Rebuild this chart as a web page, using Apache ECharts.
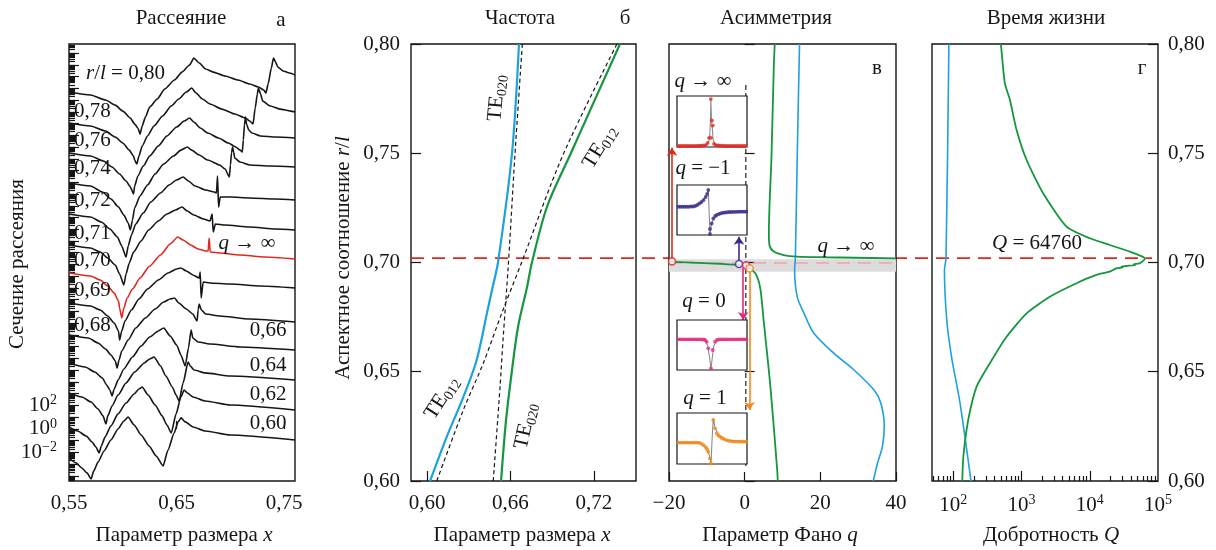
<!DOCTYPE html>
<html lang="ru">
<head>
<meta charset="utf-8">
<title>Рассеяние, частота, асимметрия и время жизни</title>
<script src="https://cdn.jsdelivr.net/npm/echarts@6.0.0/dist/echarts.min.js"></script>
<style>
  html, body { margin: 0; padding: 0; background: #fff; }
  #chart { width: 1216px; height: 550px; }
</style>
</head>
<body>
<div id="chart"></div>
<script>
// ---------- palette ----------
const FONT = '"Liberation Serif","Times New Roman",serif';
const INK = '#161616';
const BLUE = '#1da1df';
const GREEN = '#16963e';
const RED = '#e2281e';
const PURPLE = '#3b2a8c';
const PINK = '#e5287f';
const ORANGE = '#f18a1c';

// ---------- axis ticks ----------
const sizeTicksA = [0.55, 0.65, 0.75];
const sizeTicksB = [0.60, 0.66, 0.72];
const sigmaLabelDecades = [-2, 0, 2];
const qDecades = [2, 3, 4, 5];
const criticalRatio = 0.702;       // r/l of the q -> infinity state
const qPeak = 64760;               // maximal Q-factor
const grayBand = [0.6958, 0.7015]; // r/l window where q changes sign

// ---------- panel а: scattering cross-section, [x, log10(sigma) with offset] ----------
const scat080 = [[0.550,28.68],[0.570,28.43],[0.584,28.00],[0.593,27.57],[0.600,27.06],[0.607,26.47],[0.611,25.96],[0.614,25.62],[0.616,25.10],[0.618,25.79],[0.621,26.55],[0.625,27.40],[0.632,28.09],[0.639,28.94],[0.648,29.70],[0.655,30.38],[0.662,30.98],[0.666,31.57],[0.671,31.15],[0.677,30.64],[0.684,30.38],[0.695,30.04],[0.707,29.70],[0.718,29.36],[0.726,29.11],[0.731,28.85],[0.733,28.60],[0.735,29.36],[0.738,30.72],[0.740,31.57],[0.742,31.23],[0.744,30.81],[0.749,30.47],[0.755,30.30],[0.760,30.13]];
const scat078 = [[0.550,26.04],[0.570,25.79],[0.584,25.36],[0.593,24.85],[0.600,24.34],[0.606,23.74],[0.610,23.23],[0.611,22.89],[0.613,22.55],[0.615,23.23],[0.618,24.09],[0.623,24.94],[0.629,25.79],[0.637,26.64],[0.645,27.49],[0.652,28.09],[0.659,28.68],[0.664,29.02],[0.668,28.60],[0.674,28.09],[0.681,27.66],[0.692,27.23],[0.704,26.81],[0.714,26.47],[0.718,26.21],[0.721,25.96],[0.723,27.32],[0.725,28.51],[0.726,29.02],[0.728,28.51],[0.730,27.91],[0.737,27.49],[0.746,27.23],[0.756,27.06],[0.760,26.98]];
const scat076 = [[0.550,23.49],[0.570,23.23],[0.582,22.81],[0.590,22.30],[0.597,21.70],[0.603,21.11],[0.607,20.60],[0.610,20.00],[0.611,20.68],[0.614,21.53],[0.619,22.38],[0.625,23.23],[0.633,24.09],[0.641,24.94],[0.650,25.70],[0.657,26.21],[0.662,26.47],[0.666,26.13],[0.672,25.62],[0.679,25.19],[0.689,24.77],[0.698,24.34],[0.705,24.00],[0.709,23.74],[0.711,23.57],[0.712,24.60],[0.713,25.87],[0.714,26.55],[0.715,25.96],[0.717,25.45],[0.720,25.19],[0.728,24.94],[0.742,24.85],[0.760,24.77]];
const scat074 = [[0.550,20.94],[0.570,20.68],[0.581,20.17],[0.589,19.57],[0.596,18.89],[0.601,18.21],[0.605,17.53],[0.607,16.94],[0.609,17.79],[0.611,18.81],[0.616,19.83],[0.623,20.77],[0.630,21.70],[0.638,22.55],[0.647,23.23],[0.654,23.74],[0.660,24.00],[0.664,23.74],[0.671,23.32],[0.679,22.89],[0.690,22.47],[0.695,22.13],[0.699,21.45],[0.700,22.47],[0.701,23.49],[0.702,24.00],[0.703,23.57],[0.704,23.06],[0.709,22.72],[0.718,22.47],[0.737,22.38],[0.760,22.30]];
const scat072 = [[0.550,18.30],[0.570,18.04],[0.580,17.62],[0.588,17.02],[0.595,16.34],[0.599,15.57],[0.603,14.64],[0.605,15.57],[0.608,16.51],[0.612,17.45],[0.619,18.38],[0.626,19.32],[0.635,20.09],[0.643,20.77],[0.650,21.19],[0.656,21.45],[0.661,21.11],[0.667,20.68],[0.677,20.34],[0.685,20.17],[0.687,20.09],[0.688,21.53],[0.689,18.89],[0.6905,19.74],[0.700,19.74],[0.718,19.66],[0.742,19.57],[0.760,19.49]];
const scat071 = [[0.550,15.66],[0.570,15.40],[0.579,15.06],[0.586,14.55],[0.593,13.96],[0.597,13.19],[0.601,12.26],[0.603,13.19],[0.606,14.13],[0.610,15.06],[0.617,16.00],[0.624,16.94],[0.633,17.70],[0.641,18.30],[0.649,18.64],[0.655,18.89],[0.660,18.55],[0.666,18.21],[0.675,17.87],[0.681,17.70],[0.683,18.30],[0.684,16.77],[0.686,17.45],[0.695,17.36],[0.718,17.19],[0.742,17.02],[0.760,16.94]];
const scat070 = [[0.550,13.28],[0.570,13.02],[0.579,12.68],[0.586,12.17],[0.592,11.57],[0.596,10.89],[0.597,10.30],[0.599,9.45],[0.601,10.30],[0.604,11.15],[0.609,11.91],[0.616,12.85],[0.625,13.87],[0.635,14.81],[0.644,15.74],[0.651,16.34],[0.656,16.09],[0.663,15.66],[0.670,15.32],[0.677,15.15],[0.6793,15.15],[0.6802,16.26],[0.6812,15.06],[0.690,14.98],[0.709,14.81],[0.732,14.64],[0.760,14.47]];
const scat069 = [[0.550,10.72],[0.570,10.47],[0.579,10.13],[0.586,9.62],[0.592,9.02],[0.596,8.34],[0.597,7.57],[0.599,8.34],[0.602,9.19],[0.608,10.13],[0.615,11.06],[0.623,11.91],[0.633,12.68],[0.642,13.28],[0.650,13.62],[0.654,13.70],[0.659,13.45],[0.665,13.11],[0.671,12.85],[0.6719,13.36],[0.6728,11.15],[0.6747,12.51],[0.681,12.43],[0.700,12.34],[0.728,12.17],[0.760,12.00]];
const scat068 = [[0.550,8.00],[0.568,7.74],[0.577,7.32],[0.584,6.81],[0.589,6.30],[0.593,5.79],[0.5947,5.19],[0.5965,5.87],[0.599,6.64],[0.605,7.57],[0.612,8.60],[0.621,9.45],[0.630,10.21],[0.638,10.81],[0.644,11.06],[0.648,11.15],[0.652,10.72],[0.659,10.21],[0.665,9.79],[0.669,9.19],[0.670,10.13],[0.671,10.64],[0.673,10.13],[0.677,9.79],[0.690,9.62],[0.718,9.36],[0.760,9.11]];
const scat066 = [[0.550,5.62],[0.565,5.28],[0.574,4.85],[0.581,4.34],[0.585,3.74],[0.588,3.32],[0.590,2.81],[0.592,3.40],[0.5956,4.17],[0.601,5.11],[0.609,6.13],[0.617,7.06],[0.625,7.83],[0.633,8.34],[0.638,8.60],[0.644,7.91],[0.650,7.15],[0.654,6.30],[0.658,5.36],[0.661,6.89],[0.6635,8.43],[0.665,7.74],[0.670,7.40],[0.681,7.23],[0.709,6.98],[0.760,6.72]];
const scat064 = [[0.550,3.06],[0.562,2.72],[0.5705,2.30],[0.577,1.70],[0.5816,1.11],[0.5844,0.43],[0.586,1.11],[0.590,1.96],[0.5956,2.89],[0.603,3.91],[0.611,4.85],[0.620,5.62],[0.625,5.96],[0.629,6.13],[0.635,5.36],[0.640,4.51],[0.646,3.57],[0.6495,2.89],[0.6523,2.38],[0.656,3.91],[0.6607,5.70],[0.6626,5.36],[0.6663,5.02],[0.6765,4.77],[0.6998,4.51],[0.760,4.17]];
const scat062 = [[0.550,0.17],[0.558,-0.17],[0.566,-0.60],[0.5714,-1.11],[0.575,-1.53],[0.578,-2.04],[0.580,-1.45],[0.5835,-0.68],[0.589,0.26],[0.5956,1.28],[0.603,2.21],[0.6105,2.98],[0.615,3.40],[0.618,3.57],[0.6235,2.89],[0.630,2.04],[0.6365,1.11],[0.641,0.34],[0.645,-0.34],[0.6495,1.28],[0.654,2.72],[0.657,3.32],[0.660,3.06],[0.6653,2.72],[0.6765,2.38],[0.6998,2.04],[0.760,1.62]];
const scat060 = [[0.550,-2.47],[0.5565,-2.89],[0.562,-3.32],[0.5667,-3.74],[0.5705,-4.26],[0.573,-3.57],[0.577,-2.81],[0.5826,-1.87],[0.589,-0.94],[0.5956,0.00],[0.601,0.68],[0.6049,1.02],[0.6105,0.34],[0.617,-0.51],[0.6244,-1.45],[0.631,-2.30],[0.6374,-3.15],[0.642,-1.79],[0.6477,-0.34],[0.6514,0.60],[0.6542,0.94],[0.658,0.60],[0.6653,0.17],[0.6765,-0.17],[0.6998,-0.51],[0.760,-0.94]];
const scatterCurves = [scat080, scat078, scat076, scat074, scat072, scat071, scat070, scat069, scat068, scat066, scat064, scat062, scat060];
const scatterRatios = ['0,80','0,78','0,76','0,74','0,72','0,71','0,70','0,69','0,68','0,66','0,64','0,62','0,60'];

// ---------- panel б: resonance size parameter, [x, r/l] ----------
const freqBlue  = [[0.6661,0.80],[0.6611,0.75],[0.6510,0.70],[0.6467,0.6874],[0.6431,0.6769],[0.6357,0.6554],[0.6261,0.6384],[0.6141,0.6201],[0.6022,0.60]];
const freqGreen = [[0.7387,0.80],[0.7028,0.7492],[0.6862,0.7254],[0.6754,0.70],[0.6719,0.6888],[0.6654,0.6705],[0.6611,0.6508],[0.6568,0.6279],[0.6532,0.60]];
const freqBareTE020 = [[0.6685,0.80],[0.6632,0.7492],[0.6584,0.6985],[0.6548,0.666],[0.6525,0.6432],[0.6476,0.60]];
const freqBareTE012 = [[0.7365,0.80],[0.6977,0.7492],[0.668,0.70],[0.6546,0.6783],[0.6405,0.654],[0.6261,0.6325],[0.607,0.60]];

// ---------- panel в: Fano parameter, [q, r/l] ----------
const fanoGreenUpper = [[7.95,0.80],[7.7,0.7895],[7.1,0.7492],[6.4,0.7135],[6.55,0.708],[7.7,0.705],[10.3,0.7034],[13.9,0.7027],[20.9,0.7024],[40,0.7019]];
const fanoGreenLower = [[-20,0.7004],[-9.1,0.6996],[-2.0,0.6989],[0.2,0.6982],[1.95,0.6966],[3.3,0.6935],[4.2,0.6874],[5.0,0.6737],[6.8,0.6432],[8.6,0.605],[8.75,0.60]];
const fanoBlue = [[14.5,0.80],[13.9,0.7492],[13.4,0.702],[13.2,0.6966],[13.9,0.6843],[15.7,0.6767],[18.3,0.6676],[23.6,0.6584],[28.9,0.6508],[34.2,0.6416],[36.0,0.6356],[36.9,0.6249],[36.4,0.6157],[35.1,0.6081],[34.0,0.60]];
const fanoZeroGuide = [[0.3,0.7812],[0.3,0.6065]];
// picked states on the green branch: [q, r/l] of marker, arrow [q, from, to]
const fanoPicks = [
  { color: RED,    at: [-19.2, 0.7005], arrow: [-19.2, 0.7021, 0.7525] },
  { color: PURPLE, at: [-1.5, 0.6993],  arrow: [-1.5, 0.7009, 0.7118] },
  { color: PINK,   at: [0.4, 0.6987],   arrow: [-0.4, 0.6977, 0.6737] },
  { color: ORANGE, at: [1.3, 0.6973],   arrow: [1.3, 0.6957, 0.6325] }
];

// ---------- inset line shapes, normalised [x, y] ----------
const insetInfDots = [[0.02,0.02],[0.05,0.02],[0.08,0.02],[0.11,0.02],[0.14,0.02],[0.17,0.02],[0.20,0.02],[0.23,0.02],[0.26,0.02],[0.29,0.02],[0.32,0.025],[0.35,0.025],[0.38,0.03],[0.41,0.035],[0.438,0.08],[0.457,0.18],[0.486,0.18],[0.483,0.94],[0.498,0.52],[0.511,0.42],[0.529,0.06],[0.56,0.035],[0.59,0.03],[0.62,0.025],[0.65,0.025],[0.68,0.02],[0.71,0.02],[0.74,0.02],[0.77,0.02],[0.80,0.02],[0.83,0.02],[0.86,0.02],[0.89,0.02],[0.92,0.02],[0.95,0.02],[0.98,0.02]];
const insetInfFit = [[0,0.015],[0.40,0.03],[0.44,0.06],[0.465,0.16],[0.477,0.5],[0.484,0.94],[0.492,0.55],[0.505,0.35],[0.515,0.16],[0.54,0.05],[0.60,0.03],[1,0.015]];
const insetM1Dots = [[0.02,0.565],[0.05,0.565],[0.08,0.565],[0.11,0.565],[0.14,0.565],[0.17,0.565],[0.20,0.57],[0.23,0.57],[0.26,0.58],[0.29,0.60],[0.32,0.63],[0.35,0.66],[0.38,0.70],[0.41,0.76],[0.43,0.82],[0.447,0.90],[0.471,0.02],[0.471,0.12],[0.495,0.23],[0.519,0.33],[0.545,0.38],[0.567,0.40],[0.60,0.42],[0.63,0.435],[0.66,0.445],[0.69,0.45],[0.72,0.455],[0.75,0.46],[0.78,0.46],[0.81,0.462],[0.84,0.464],[0.87,0.465],[0.90,0.466],[0.93,0.466],[0.96,0.466],[0.99,0.466]];
const insetM1Fit = [[0,0.565],[0.25,0.575],[0.35,0.65],[0.42,0.78],[0.447,0.9],[0.458,0.5],[0.471,0.0],[0.49,0.2],[0.52,0.33],[0.6,0.42],[0.7,0.45],[1,0.466]];
const insetZeroDots = [[0.02,0.613],[0.05,0.613],[0.08,0.613],[0.11,0.613],[0.14,0.613],[0.17,0.613],[0.20,0.613],[0.23,0.613],[0.26,0.613],[0.29,0.613],[0.32,0.613],[0.35,0.61],[0.38,0.61],[0.40,0.60],[0.424,0.566],[0.447,0.433],[0.486,0.033],[0.51,0.40],[0.543,0.566],[0.57,0.60],[0.60,0.61],[0.63,0.613],[0.66,0.613],[0.69,0.613],[0.72,0.613],[0.75,0.613],[0.78,0.613],[0.81,0.613],[0.84,0.613],[0.87,0.613],[0.90,0.613],[0.93,0.613],[0.96,0.613],[0.99,0.613]];
const insetZeroFit = [[0,0.613],[0.40,0.60],[0.44,0.48],[0.47,0.2],[0.486,0.02],[0.50,0.2],[0.525,0.48],[0.57,0.6],[1,0.613]];
const insetOneDots = [[0.02,0.42],[0.05,0.42],[0.08,0.42],[0.11,0.42],[0.14,0.42],[0.17,0.42],[0.20,0.42],[0.23,0.42],[0.26,0.42],[0.29,0.42],[0.32,0.415],[0.35,0.40],[0.38,0.37],[0.41,0.33],[0.43,0.29],[0.447,0.24],[0.471,0.11],[0.486,0.01],[0.519,0.86],[0.543,0.70],[0.567,0.60],[0.59,0.56],[0.614,0.536],[0.64,0.51],[0.67,0.49],[0.70,0.47],[0.73,0.46],[0.76,0.45],[0.79,0.445],[0.82,0.44],[0.85,0.44],[0.88,0.44],[0.91,0.437],[0.94,0.437],[0.97,0.437],[0.99,0.437]];
const insetOneFit = [[0,0.42],[0.32,0.415],[0.41,0.33],[0.46,0.18],[0.486,0.0],[0.50,0.45],[0.519,0.9],[0.54,0.72],[0.6,0.55],[0.7,0.47],[1,0.437]];
const insets = [
  { dots: insetInfDots,  fit: insetInfFit,  color: RED },
  { dots: insetM1Dots,   fit: insetM1Fit,   color: PURPLE },
  { dots: insetZeroDots, fit: insetZeroFit, color: PINK },
  { dots: insetOneDots,  fit: insetOneFit,  color: ORANGE }
];

// ---------- panel г: quality factor, [Q, r/l] ----------
const lifeBlue = [[86,0.80],[78,0.702],[74,0.6966],[80,0.6737],[94,0.6568],[125,0.6357],[181,0.60]];
const lifeGreen = [[498,0.80],[569,0.782],[675,0.7744],[845,0.7606],[1184,0.7469],[2070,0.7317],[4560,0.7164],[10000,0.7111],[19600,0.708],[38500,0.705],[60300,0.7026],[qPeak,0.7018],[53700,0.6996],[44000,0.6992],[46500,0.6989],[34400,0.6984],[29000,0.6981],[30500,0.6978],[24500,0.6973],[19600,0.6958],[12500,0.6943],[6380,0.6905],[2590,0.6843],[1183,0.6767],[602,0.666],[343,0.6539],[219,0.6432],[165,0.6279],[140,0.6111],[135,0.60]];

// ---------- helpers ----------
const comma2 = v => v.toFixed(2).replace('.', ',');
const signed = v => (v < 0 ? '\u2212' + (-v) : String(v));
const pow10 = v => '{b|10}{s|' + signed(Math.round(v)) + '}';
const powRich = {
  b: { fontFamily: FONT, fontSize: 21, color: INK },
  s: { fontFamily: FONT, fontSize: 14, color: INK, padding: [0, 0, 10, 0] }
};
const tick = (len, extra) => Object.assign({ show: true, inside: true, length: len, lineStyle: { color: INK, width: 1.2 } }, extra || {});
const labelBase = (extra) => Object.assign({ color: INK, fontFamily: FONT, fontSize: 21, margin: 12 }, extra || {});

// log-axis tick positions (decades and 2..9 subdivisions)
const SIGMA_MIN = -4.43, SIGMA_MAX = 32.77;
const sigmaMajor = [], sigmaMinor = [];
for (let n = -5; n <= 33; n++) {
  if (n >= SIGMA_MIN && n <= SIGMA_MAX) sigmaMajor.push(n);
  for (let k = 2; k <= 9; k++) {
    const t = n + Math.log10(k);
    if (t > SIGMA_MIN && t < SIGMA_MAX) sigmaMinor.push(t);
  }
}
const Q_MIN = Math.log10(48.6), Q_MAX = 5;
const qMajor = [2, 3, 4], qMinor = [];
for (let n = 1; n <= 4; n++) {
  for (let k = 2; k <= 9; k++) {
    const t = n + Math.log10(k);
    if (t > Q_MIN && t < Q_MAX) qMinor.push(t);
  }
}

// ---------- layout ----------
const PLOT_TOP = 44, PLOT_H = 437;
const frame = { show: true, borderColor: INK, borderWidth: 1.4, backgroundColor: 'transparent' };
const insetFrame = { show: true, z: 6, backgroundColor: '#fff', borderColor: INK, borderWidth: 1.2 };
const grid = [
  Object.assign({ left: 69,  top: PLOT_TOP, width: 226, height: PLOT_H }, frame),
  Object.assign({ left: 411, top: PLOT_TOP, width: 225, height: PLOT_H }, frame),
  Object.assign({ left: 669, top: PLOT_TOP, width: 227, height: PLOT_H }, frame, { backgroundColor: '#fff', z: 0.5 }),
  Object.assign({ left: 932, top: PLOT_TOP, width: 226, height: PLOT_H }, frame),
  Object.assign({ left: 677, top: 96,  width: 70, height: 51 }, insetFrame),
  Object.assign({ left: 677, top: 185, width: 70, height: 50 }, insetFrame),
  Object.assign({ left: 677, top: 320, width: 70, height: 50 }, insetFrame),
  Object.assign({ left: 677, top: 413, width: 70, height: 51 }, insetFrame),
  { left: 411, top: PLOT_TOP, width: 741, height: PLOT_H, show: false }
];

const noLine = { show: false };
const noSplit = { show: false };
const ratioAxis = (gridIndex, extra) => Object.assign({
  type: 'value', gridIndex, min: 0.6, max: 0.8, interval: 0.05,
  axisLine: noLine, splitLine: noSplit, axisTick: tick(10),
  axisLabel: labelBase({ formatter: comma2, margin: 11 })
}, extra || {});
const hiddenAxis = (gridIndex, min, max) => ({ type: 'value', gridIndex, min, max, show: false });

const xAxis = [
  { type: 'value', gridIndex: 0, min: 0.55, max: 0.76, axisLine: noLine, splitLine: noSplit,
    axisTick: tick(8, { customValues: sizeTicksA }),
    axisLabel: labelBase({ customValues: sizeTicksA, formatter: comma2 }) },
  { type: 'value', gridIndex: 1, min: 0.5885, max: 0.7502, axisLine: noLine, splitLine: noSplit,
    axisTick: tick(10, { customValues: sizeTicksB }),
    axisLabel: labelBase({ customValues: sizeTicksB, formatter: comma2 }) },
  { type: 'value', gridIndex: 2, min: -20, max: 40, interval: 20, z: 1, axisLine: noLine, splitLine: noSplit,
    axisTick: tick(9), axisLabel: labelBase({ formatter: signed }) },
  { type: 'value', gridIndex: 3, position: 'bottom', min: Q_MIN, max: Q_MAX, axisLine: noLine, splitLine: noSplit,
    axisTick: tick(10, { customValues: qMajor }),
    axisLabel: labelBase({ customValues: qDecades, formatter: pow10, rich: powRich }) },
  { type: 'value', gridIndex: 3, position: 'bottom', min: Q_MIN, max: Q_MAX, axisLine: noLine, splitLine: noSplit,
    axisTick: tick(5, { customValues: qMinor }), axisLabel: { show: false } },
  hiddenAxis(4, 0, 1), hiddenAxis(5, 0, 1), hiddenAxis(6, 0, 1), hiddenAxis(7, 0, 1),
  hiddenAxis(8, 0, 1)
];

const yAxis = [
  { type: 'value', gridIndex: 0, position: 'left', min: SIGMA_MIN, max: SIGMA_MAX, axisLine: noLine, splitLine: noSplit,
    axisTick: tick(10, { customValues: sigmaMajor }),
    axisLabel: labelBase({ customValues: sigmaLabelDecades, formatter: pow10, rich: powRich }) },
  { type: 'value', gridIndex: 0, position: 'left', min: SIGMA_MIN, max: SIGMA_MAX, axisLine: noLine, splitLine: noSplit,
    axisTick: tick(6, { customValues: sigmaMinor }), axisLabel: { show: false } },
  ratioAxis(1),
  ratioAxis(2, { z: 1, axisLabel: { show: false } }),
  ratioAxis(3, { position: 'right', axisLabel: labelBase({ formatter: comma2, margin: 10 }) }),
  hiddenAxis(4, 0, 1), hiddenAxis(5, 0, 1), hiddenAxis(6, 0, 1), hiddenAxis(7, 0, 1),
  hiddenAxis(8, 0.6, 0.8)
];

// ---------- series ----------
const line = (xi, yi, data, color, width, extra) => Object.assign({
  type: 'line', xAxisIndex: xi, yAxisIndex: yi, data, symbol: 'none', silent: true,
  lineStyle: { color, width }, z: 2
}, extra || {});
const soft = { smooth: 0.3 };

const series = [];

// red dashed guide through б, в and г
series.push(line(9, 9, [[0, criticalRatio], [1, criticalRatio]], RED, 1.6,
  { lineStyle: { color: RED, width: 1.6, type: [13, 8] }, z: 0.2 }));

// а
scatterCurves.forEach((pts, i) => {
  const isRed = scatterRatios[i] === '0,70';
  series.push(line(0, 0, pts, isRed ? RED : INK, 1.6,
    { z: isRed ? 3 : 2, smooth: 0.2, smoothMonotone: 'x' }));
});

// б
series.push(line(1, 2, freqBareTE020, INK, 1.2, Object.assign({ lineStyle: { color: INK, width: 1.2, type: [4, 3] } }, soft)));
series.push(line(1, 2, freqBareTE012, INK, 1.2, Object.assign({ lineStyle: { color: INK, width: 1.2, type: [4, 3] } }, soft)));
series.push(line(1, 2, freqBlue, BLUE, 2.2, Object.assign({ z: 3 }, soft)));
series.push(line(1, 2, freqGreen, GREEN, 2.2, Object.assign({ z: 3 }, soft)));

// в
series.push(line(2, 3, fanoBlue, BLUE, 1.6, Object.assign({
  markArea: { silent: true, z: 1, itemStyle: { color: '#dcdcdc' },
    data: [[{ yAxis: grayBand[1] }, { yAxis: grayBand[0] }]] },
  markLine: { silent: true, z: 1.5, symbol: ['none', 'none'], label: { show: false },
    lineStyle: { color: '#f2a3a3', width: 1.5, type: [13, 8] },
    data: [{ yAxis: criticalRatio }] }
}, soft)));
series.push(line(2, 3, fanoZeroGuide, '#333', 1.3, { lineStyle: { color: '#333', width: 1.3, type: [5, 3] } }));
series.push(line(2, 3, fanoGreenUpper, GREEN, 1.8, Object.assign({ z: 3 }, soft)));
series.push(line(2, 3, fanoGreenLower, GREEN, 1.8, Object.assign({ z: 3 }, soft)));
series.push({
  type: 'scatter', xAxisIndex: 2, yAxisIndex: 3, silent: true, z: 5, symbol: 'circle', symbolSize: 7,
  data: fanoPicks.map(p => ({ value: p.at, itemStyle: { color: '#fff', borderColor: p.color, borderWidth: 1.6 } })),
  markLine: {
    silent: true, z: 4, symbol: ['none', 'arrow'], symbolSize: 8, label: { show: false },
    data: fanoPicks.map(p => [
      { coord: [p.arrow[0], p.arrow[1]], lineStyle: { color: p.color, width: 1.6, type: 'solid' } },
      { coord: [p.arrow[0], p.arrow[2]] }
    ])
  }
});

// insets
insets.forEach((ins, i) => {
  series.push(line(5 + i, 5 + i, ins.fit, '#8c8c8c', 1.1, { z: 7 }));
  series.push({ type: 'scatter', xAxisIndex: 5 + i, yAxisIndex: 5 + i, data: ins.dots, silent: true,
    symbol: 'circle', symbolSize: 3.8, itemStyle: { color: ins.color }, z: 8 });
});

// г
const toLog = arr => arr.map(p => [Math.log10(p[0]), p[1]]);
series.push(line(3, 4, toLog(lifeBlue), BLUE, 1.6, soft));
series.push(line(3, 4, toLog(lifeGreen), GREEN, 1.8, { smooth: 0.2 }));

// ---------- text ----------
const RICH = {
  i:   { font: 'italic 21px ' + FONT, fill: INK },
  m:   { font: '21px ' + FONT, fill: INK },
  sub: { font: '14px ' + FONT, fill: INK, padding: [10, 0, 0, 0] }
};
const deg = d => d * Math.PI / 180;
function label(x, y, text, o) {
  o = o || {};
  const align = o.align || 'center';
  return {
    type: 'text', x, y, rotation: o.rot || 0, z: 30, silent: true,
    style: {
      text, font: (o.size || 21) + 'px ' + FONT, fill: o.color || INK,
      align, verticalAlign: 'middle', textAlign: align, textVerticalAlign: 'middle', rich: RICH
    }
  };
}

const elements = [
  label(181, 18, 'Рассеяние'), label(281, 20, 'а'),
  label(520, 18, 'Частота'), label(625, 18, 'б'),
  label(776, 18, 'Асимметрия'),
  label(1046, 18, 'Время жизни'),
  label(184, 535, 'Параметр размера {i|x}'),
  label(522, 535, 'Параметр размера {i|x}'),
  label(780, 535, 'Параметр Фано {i|q}'),
  label(1051, 535, 'Добротность {i|Q}'),
  label(17, 264, 'Сечение рассеяния', { rot: deg(90) }),
  label(343, 258, 'Аспектное соотношение {i|r}/{i|l}', { rot: deg(90) }),
  label(877, 68, 'в'), label(1142, 68, 'г'),
  // curve tags in а
  label(86, 73, '{i|r}/{i|l} = ' + scatterRatios[0], { align: 'left' }),
  label(74, 111, scatterRatios[1], { align: 'left' }),
  label(74, 140, scatterRatios[2], { align: 'left' }),
  label(74, 168, scatterRatios[3], { align: 'left' }),
  label(74, 200, scatterRatios[4], { align: 'left' }),
  label(74, 233, scatterRatios[5], { align: 'left' }),
  label(74, 260, scatterRatios[6], { align: 'left' }),
  label(74, 290, scatterRatios[7], { align: 'left' }),
  label(74, 325, scatterRatios[8], { align: 'left' }),
  label(268, 330, scatterRatios[9]),
  label(268, 365, scatterRatios[10]),
  label(268, 394, scatterRatios[11]),
  label(268, 423, scatterRatios[12]),
  label(247, 243, '{i|q} \u2192 \u221e'),
  // mode names in б
  label(497, 98,  '{m|TE}{sub|020}', { rot: deg(84.5) }),
  label(600, 147, '{m|TE}{sub|012}', { rot: deg(58) }),
  label(442, 398, '{m|TE}{sub|012}', { rot: deg(57) }),
  label(526, 426, '{m|TE}{sub|020}', { rot: deg(77) }),
  // inset captions in в
  label(703, 81,  '{i|q} \u2192 \u221e'),
  label(703, 168, '{i|q} = \u22121'),
  label(704, 301, '{i|q} = 0'),
  label(705, 398, '{i|q} = 1'),
  label(846, 246, '{i|q} \u2192 \u221e'),
  // г
  label(1037, 243, '{i|Q} = ' + qPeak)
];

const chart = echarts.init(document.getElementById('chart'), null, { renderer: 'canvas' });
chart.setOption({
  animation: false,
  backgroundColor: '#fff',
  textStyle: { fontFamily: FONT },
  grid, xAxis, yAxis, series,
  graphic: { elements }
});
</script>
</body>
</html>
